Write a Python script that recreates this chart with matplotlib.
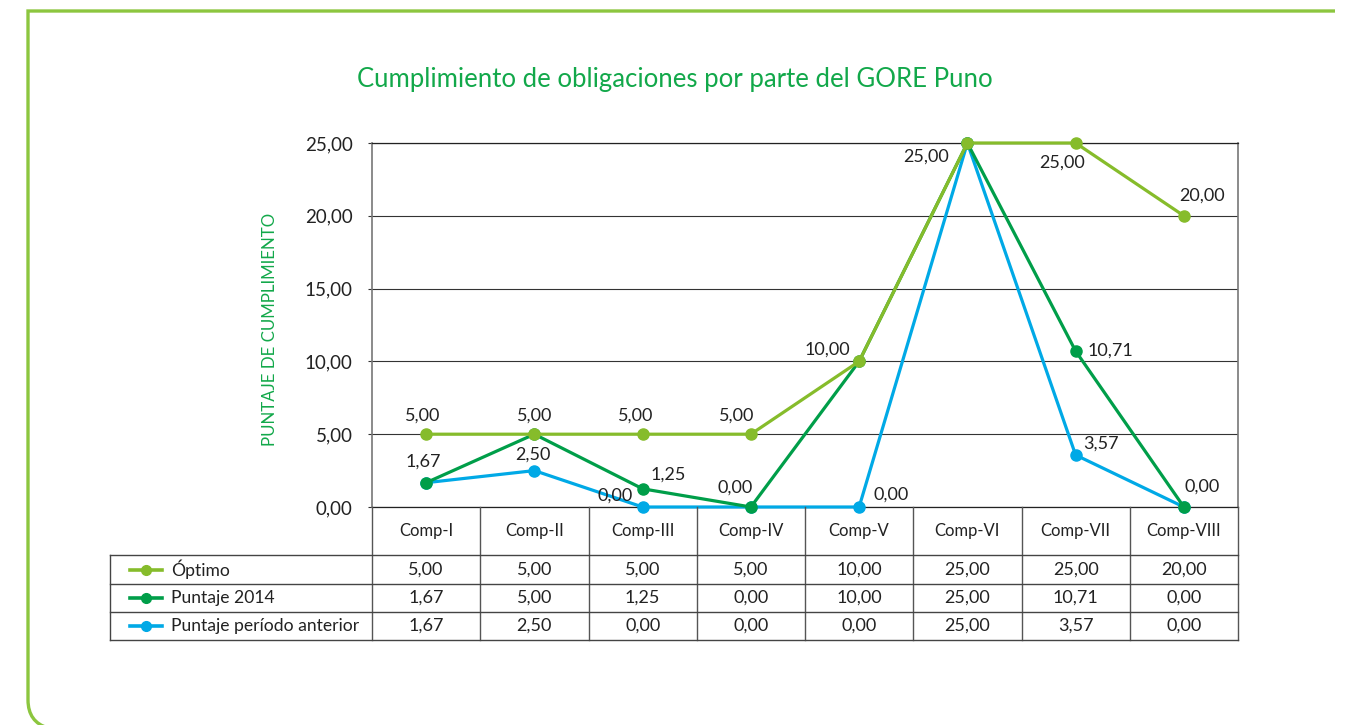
import matplotlib
matplotlib.use("Agg")
import matplotlib.pyplot as plt
from matplotlib.lines import Line2D
from matplotlib.path import Path
from matplotlib.patches import PathPatch

# ---------------- data ----------------
categories = ["Comp-I", "Comp-II", "Comp-III", "Comp-IV", "Comp-V", "Comp-VI", "Comp-VII", "Comp-VIII"]
optimo = [5.00, 5.00, 5.00, 5.00, 10.00, 25.00, 25.00, 20.00]
puntaje_2014 = [1.67, 5.00, 1.25, 0.00, 10.00, 25.00, 10.71, 0.00]
puntaje_anterior = [1.67, 2.50, 0.00, 0.00, 0.00, 25.00, 3.57, 0.00]
series_names = ["Óptimo", "Puntaje 2014", "Puntaje período anterior"]
title = "Cumplimiento de obligaciones por parte del GORE Puno"
ylabel = "PUNTAJE DE CUMPLIMIENTO"
yticks = [0, 5, 10, 15, 20, 25]

# ---------------- style ----------------
W, H = 1357, 725
FONT = "Lato"
plt.rcParams["font.family"] = [FONT, "DejaVu Sans"]
C_OPT = "#86bc2b"
C_2014 = "#009e49"
C_ANT = "#00a9e6"
C_TITLE = "#12a84a"
C_FRAME = "#8cc63f"
TXT = "#222222"
GRID = "#333333"

def fx(x):
    return x / W

def fy(y):
    return 1 - y / H

def fmt(v):
    return f"{v:.2f}".replace(".", ",")

fig = plt.figure(figsize=(W / 100, H / 100), dpi=100)
fig.patch.set_facecolor("white")

# plot area
X0, X1, Y0, Y1 = 372, 1238, 143, 507
ax = fig.add_axes([fx(X0), fy(Y1), (X1 - X0) / W, (Y1 - Y0) / H])
n = len(categories)
xs = list(range(n))
ax.set_xlim(-0.5, n - 0.5)
ax.set_ylim(0, 25)
ax.set_yticks(yticks)
ax.set_yticklabels([fmt(v) for v in yticks], fontsize=13.5, color=TXT)
ax.tick_params(axis="y", length=3, width=0.8, color=GRID, pad=11)
ax.set_xticks([])
ax.grid(axis="y", color=GRID, lw=0.8)
ax.set_axisbelow(True)
for s in ["left", "right"]:
    ax.spines[s].set_color("#777777")
    ax.spines[s].set_linewidth(1.2)
for s in ["top", "bottom"]:
    ax.spines[s].set_color("#222222")
    ax.spines[s].set_linewidth(0.9)

series = [optimo, puntaje_2014, puntaje_anterior]
colors = [C_OPT, C_2014, C_ANT]
zorders = [5, 4, 3]
for vals, c, z in zip(series, colors, zorders):
    ax.plot(xs, vals, color=c, lw=2.3, marker="o", markersize=8, zorder=z, clip_on=False)

# data labels: (series index, category index, offset px)
label_offsets = [
    (0, 0, (-3, 19)), (0, 1, (0, 19)), (0, 2, (-7, 19)), (0, 3, (-14, 19)),
    (0, 4, (-32, 12)), (0, 5, (-41, -14)), (0, 6, (-14, -20)), (0, 7, (18, 20)),
    (1, 0, (-3, 21)), (1, 2, (26, 14)), (1, 3, (-16, 19)), (1, 6, (35, 0)), (1, 7, (18, 20)),
    (2, 1, (-1, 16)), (2, 2, (-28, 11)), (2, 4, (32, 12)), (2, 6, (25, 11)),
]
for si, ci, (dx, dy) in label_offsets:
    v = series[si][ci]
    ax.annotate(fmt(v), xy=(ci, v), xytext=(dx, dy), textcoords="offset pixels",
                ha="center", va="center", fontsize=13, color=TXT, zorder=6,
                annotation_clip=False)

# title and y label
fig.text(fx(675), fy(80), title, ha="center", va="center", fontsize=18.5, color=C_TITLE)
fig.text(fx(270), fy(329), ylabel, ha="center", va="center", rotation=90, fontsize=12.2, color=C_TITLE)

# ---------------- data table ----------------
TL = 110
HDR_TOP, HDR_BOT = 507, 555
row_edges = [555, 584, 612, 640]
col_w = (X1 - X0) / n
col_edges = [X0 + i * col_w for i in range(n + 1)]
LC = "#444444"

def hline(x0, x1, y, lw=1.0, c=LC):
    fig.add_artist(Line2D([fx(x0), fx(x1)], [fy(y), fy(y)], color=c, lw=lw))

def vline(x, y0, y1, lw=1.0, c=LC):
    fig.add_artist(Line2D([fx(x), fx(x)], [fy(y0), fy(y1)], color=c, lw=lw))

for e in col_edges:
    vline(e, HDR_TOP, row_edges[-1], c="#555555")
for y in row_edges:
    hline(TL, X1, y)
vline(TL, row_edges[0], row_edges[-1])

for i, cat in enumerate(categories):
    cx = X0 + (i + 0.5) * col_w
    fig.text(fx(cx), fy((HDR_TOP + HDR_BOT) / 2), cat, ha="center", va="center",
             fontsize=12, color=TXT)

for r, (vals, c, name) in enumerate(zip(series, colors, series_names)):
    cy = (row_edges[r] + row_edges[r + 1]) / 2
    fig.add_artist(Line2D([fx(130), fx(162)], [fy(cy), fy(cy)], color=c, lw=2.6))
    fig.add_artist(Line2D([fx(146)], [fy(cy)], color=c, marker="o", markersize=7, lw=0))
    fig.text(fx(171), fy(cy), name, ha="left", va="center", fontsize=12.6, color=TXT)
    for i, v in enumerate(vals):
        cx = X0 + (i + 0.5) * col_w
        fig.text(fx(cx), fy(cy), fmt(v), ha="center", va="center", fontsize=13, color=TXT)

# ---------------- outer green frame ----------------
verts = [(fx(1335), fy(11)), (fx(28), fy(11)), (fx(28), fy(700)),
         (fx(28), fy(722)), (fx(48), fy(728))]
codes = [Path.MOVETO, Path.LINETO, Path.LINETO, Path.CURVE3, Path.CURVE3]
fig.add_artist(PathPatch(Path(verts, codes), transform=fig.transFigure,
                         fill=False, edgecolor=C_FRAME, lw=2.4, clip_on=False))

fig.savefig("out.png", dpi=100, facecolor="white")
